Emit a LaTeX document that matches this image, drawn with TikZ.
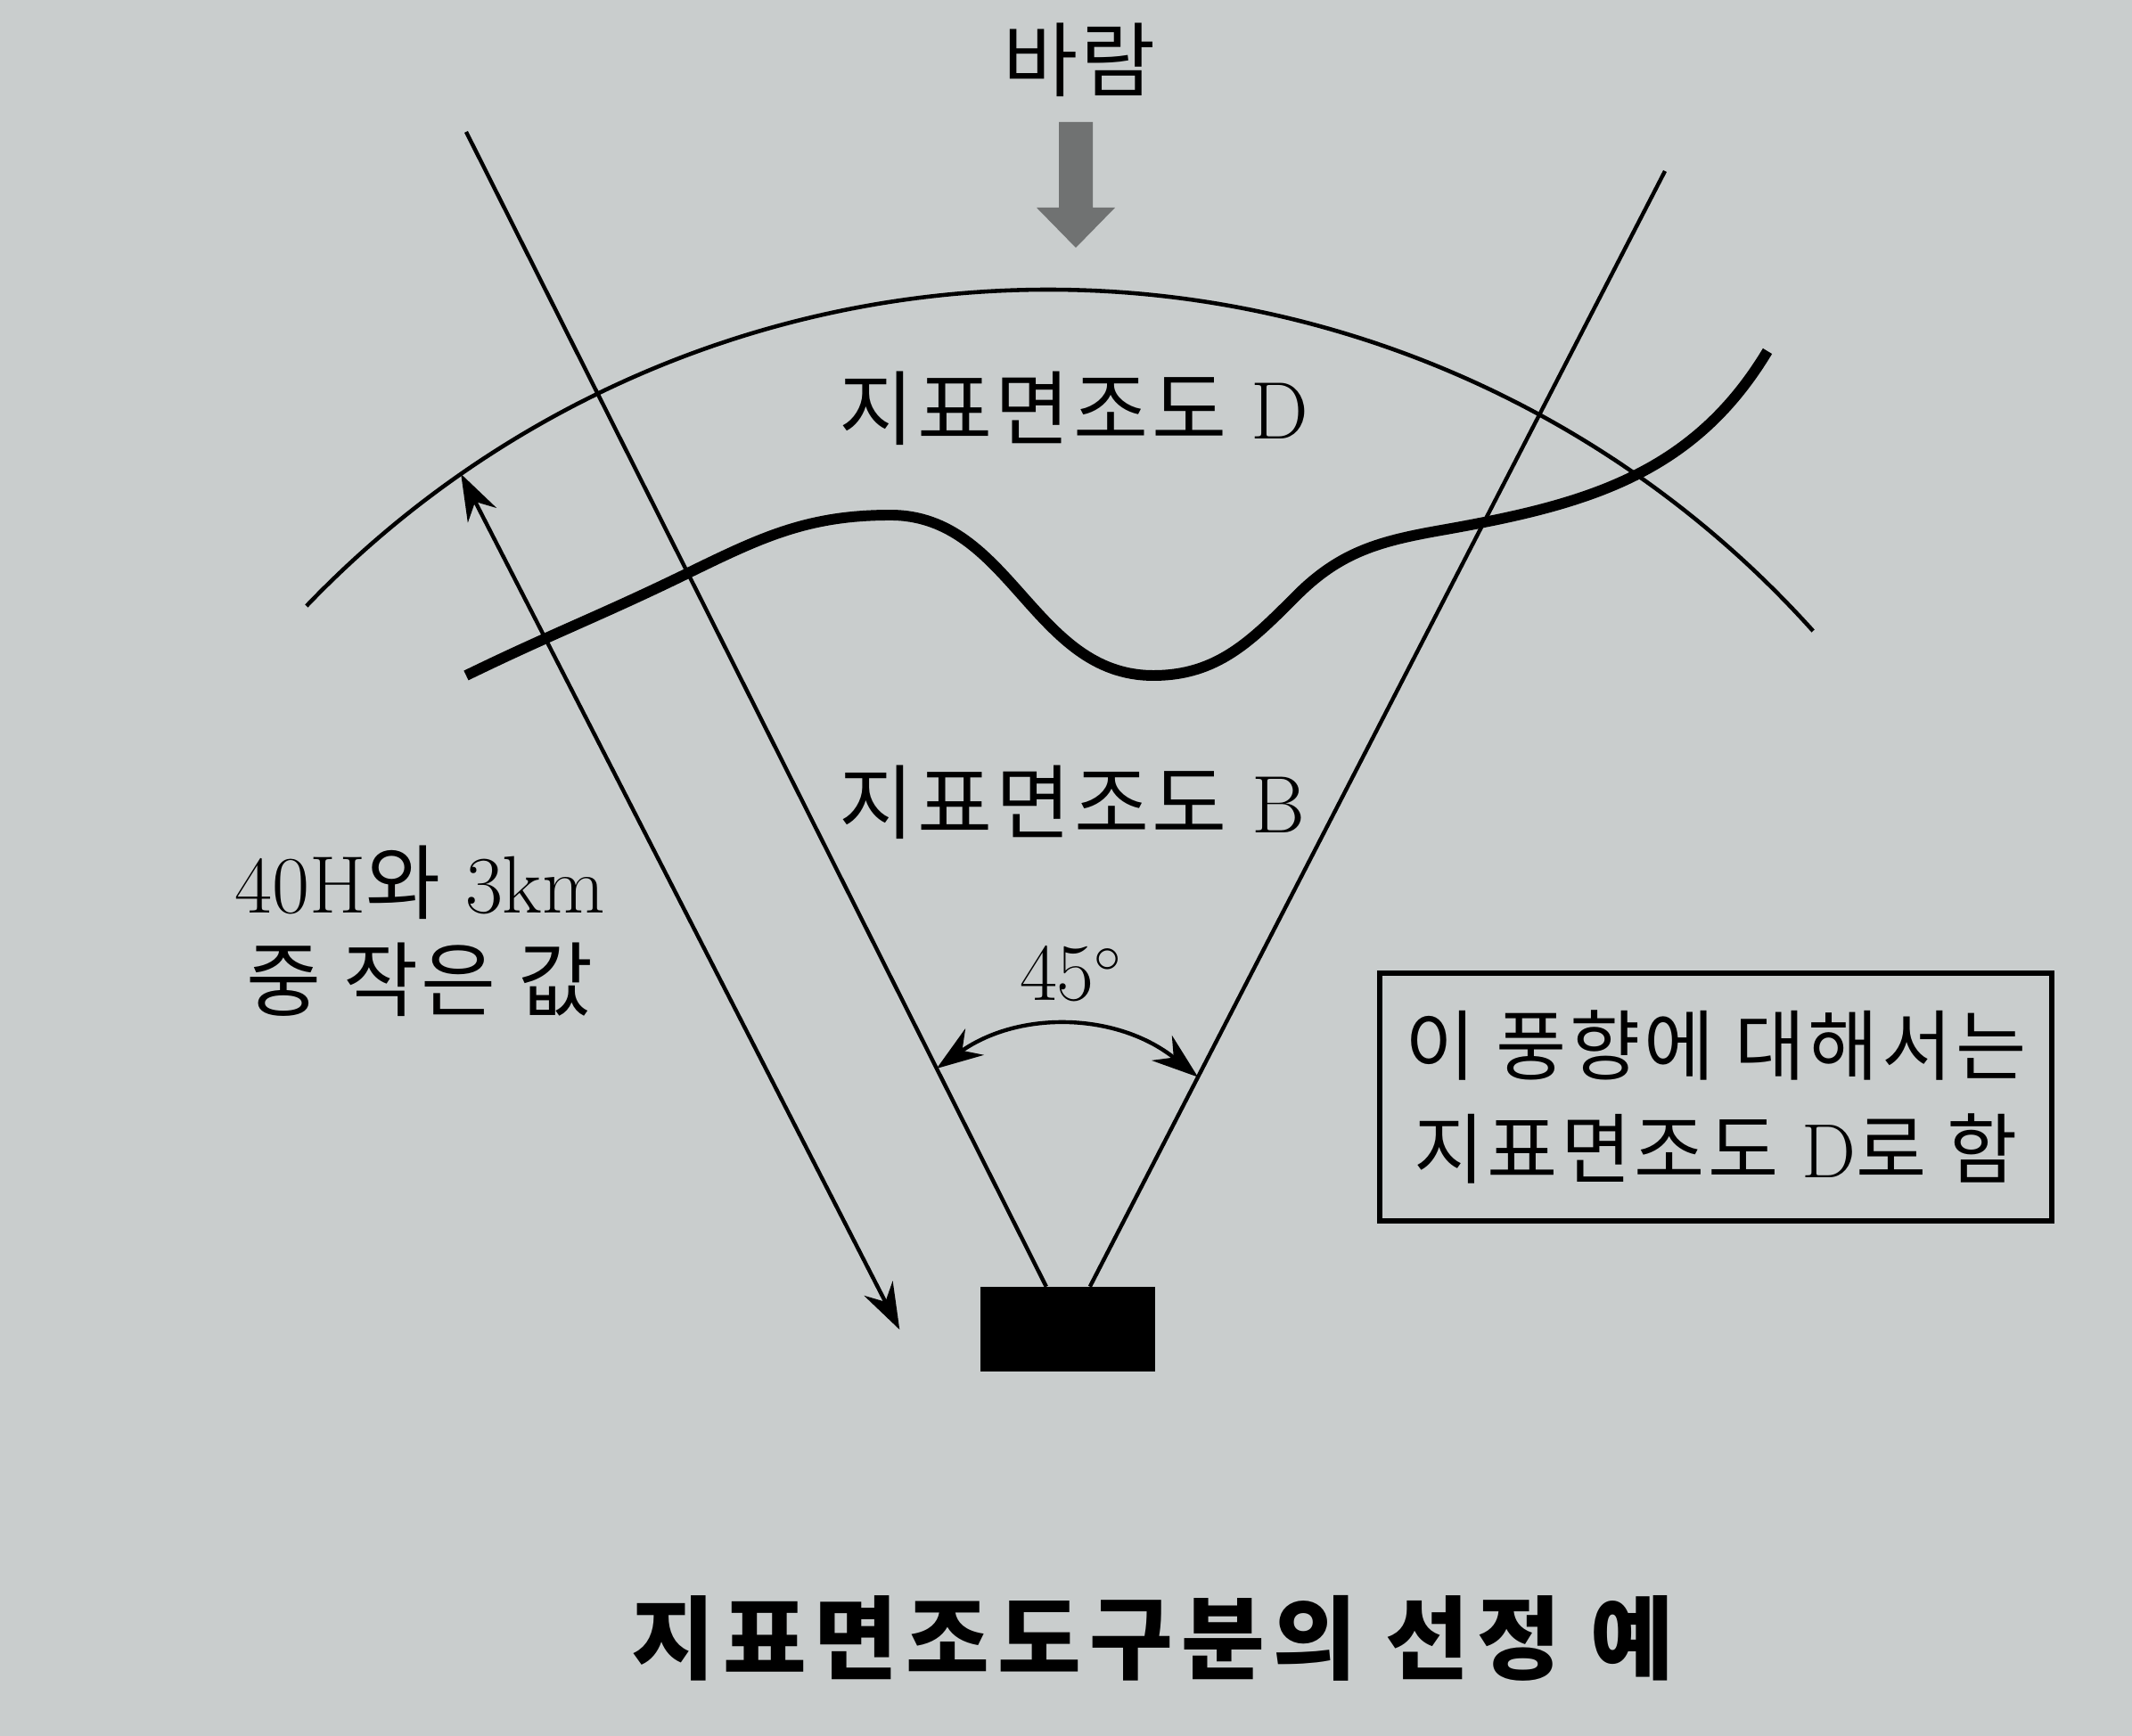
\documentclass[tikz,border=0pt]{standalone}
\usepackage{fontspec}
\usepackage{tikz}
\usetikzlibrary{arrows.meta,positioning,calc}
\newfontfamily\kr[LetterSpace=4]{Noto Sans CJK KR}
\newfontfamily\krcap[LetterSpace=9]{Noto Sans CJK KR}
\definecolor{paper}{RGB}{201,205,205}
\definecolor{windgray}{RGB}{112,114,114}

\begin{document}
\begin{tikzpicture}[x=1cm, y=1cm,
>={Stealth[length=5.2mm, width=3.6mm, inset=1.7mm]},
ray/.style={line width=1.25pt},
zone/.style={line width=1.3pt},
terrain/.style={line width=3.4pt},
lbl/.style={font=\fontsize{26}{31}\selectfont, inner sep=0pt, align=center},
notebox/.style={lbl, font=\fontsize{24.5}{33}\selectfont, draw, line width=1.5pt,
minimum width=7.54cm, minimum height=2.78cm}]
\fill [paper] (0,0) rectangle (23.92,19.48);
\useasboundingbox (0,0) rectangle (23.92,19.48);

\node [fill=black, minimum width=1.96cm, minimum height=0.95cm,
inner sep=0pt] (bldg) at (11.98,4.56) {};
\coordinate (ltop) at (5.23,18.00);
\coordinate (rtop) at (18.68,17.56);
\coordinate (ctr) at (11.76,4.70);
\coordinate (dtop) at ($(ctr)+(124.85:11.53)$);
\coordinate [left = 0.9cm of bldg.west] (dbot);
\coordinate (al) at ($(bldg.center)!0.218!(ltop)$);
\coordinate (ar) at ($(bldg.center)!0.218!(rtop)$);

\path [ray]
(bldg) edge (ltop)
edge (rtop);
\draw [zone] ($(ctr)+(136.2:11.53)$) arc [start angle=136.2,
end angle=41.9, radius=11.53];
\draw [terrain] (5.23,11.90) to [out=26, in=206] (7.70,13.04)
to [out=26, in=180] (9.99,13.70)
to [out=0, in=180] (12.94,11.90)
to [out=0, in=225] (14.55,12.80)
to [out=45, in=190] (16.17,13.53)
to [out=10, in=239] (19.83,15.54);
\draw [ray, <->] (dtop) -- (dbot);
\draw [ray, <->] (al) to [bend left=37] (ar);

\fill [windgray] (11.88,18.11) -- (12.26,18.11) -- (12.26,17.15)
-- (12.51,17.15) -- (12.07,16.70) -- (11.63,17.15) -- (11.88,17.15) -- cycle;

\node [lbl] (wind) at (12.11,18.81) {\kr 바람};
\node [lbl] (zoneD) at (12.05,14.90) {{\kr 지표면조도} D};
\node [lbl] (zoneB) at (12.03,10.48) {{\kr 지표면조도} B};
\node [lbl] (angle) at (12.02,8.55) {45$^{\circ}$};
\node [lbl] (dimtxt) at (4.71,9.03) {40H{\kr 와} 3km\\{\kr 중 작은 값}};
\node [notebox] (note) at (19.25,7.17)
{{\kr 이 풍향에 대해서는}\\{\kr 지표면조도} D{\kr 로 함}};
\node [lbl, font={\fontsize{29}{32}\selectfont\krcap\bfseries}] (caption)
at (12.93,1.10) {지표면조도구분의 선정 예};
\end{tikzpicture}
\end{document}
